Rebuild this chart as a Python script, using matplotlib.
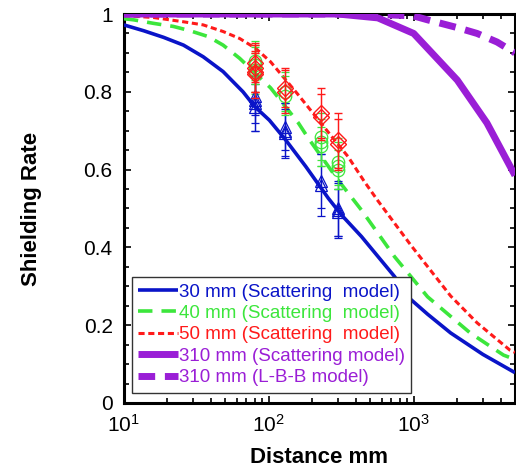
import numpy as np
import matplotlib
matplotlib.use("Agg")
import matplotlib.pyplot as plt
from matplotlib.ticker import MultipleLocator, LogLocator, FixedLocator, FixedFormatter

plt.rcParams['font.family'] = ['Liberation Sans', 'DejaVu Sans']
plt.rcParams['mathtext.fontset'] = 'custom'
plt.rcParams['mathtext.rm'] = 'Liberation Sans'

# ---- model curves ----
x30 = [10, 13.7, 18.8, 25.8, 35.3, 48.4, 66.4, 80, 101, 131, 180, 258, 320, 436, 738, 910, 1250, 1800, 3000, 5000]
y30 = [0.972, 0.957, 0.94, 0.92, 0.89, 0.852, 0.80, 0.762, 0.727, 0.676, 0.608, 0.526, 0.482, 0.428, 0.325, 0.273, 0.228, 0.18, 0.125, 0.078]

x40 = [10, 11.7, 16, 22, 28.6, 38.2, 48.4, 63, 103, 160, 188, 301, 436, 738, 1247, 2455, 4170, 5000]
y40 = [0.988, 0.985, 0.976, 0.968, 0.957, 0.942, 0.92, 0.886, 0.81, 0.72, 0.68, 0.573, 0.496, 0.376, 0.273, 0.18, 0.123, 0.112]

x50 = [10, 16, 25.8, 35.3, 48.4, 63, 81, 103, 160, 272, 353, 459, 566, 959, 1800, 2740, 4610, 5000]
y50 = [0.996, 0.991, 0.98, 0.972, 0.955, 0.937, 0.912, 0.877, 0.792, 0.685, 0.633, 0.568, 0.52, 0.405, 0.275, 0.206, 0.136, 0.13]

x310 = [10, 100, 300, 566, 1000, 2000, 3200, 5000]
y310 = [1.0, 1.0, 1.0, 0.99, 0.95, 0.83, 0.72, 0.585]

x310lbb = [10, 100, 500, 1000, 1247, 2000, 2740, 3760, 5000]
y310lbb = [1.0, 1.0, 1.0, 0.995, 0.985, 0.965, 0.95, 0.928, 0.90]

# ---- measurements (repeated shots) ----
mx30 = [80, 80, 80, 80, 130, 130, 130, 230, 230, 300, 300, 300]
my30 = [0.79, 0.78, 0.77, 0.76, 0.71, 0.70, 0.695, 0.57, 0.56, 0.50, 0.495, 0.49]
me30 = [0.05, 0.06, 0.07, 0.06, 0.06, 0.07, 0.06, 0.07, 0.08, 0.07, 0.07, 0.06]

mx40 = [80, 80, 80, 80, 130, 130, 230, 230, 230, 300, 300, 300]
my40 = [0.88, 0.87, 0.855, 0.85, 0.80, 0.79, 0.685, 0.67, 0.66, 0.62, 0.61, 0.60]
me40 = [0.05, 0.05, 0.06, 0.05, 0.05, 0.05, 0.06, 0.06, 0.05, 0.06, 0.06, 0.05]

mx50 = [80, 80, 80, 80, 130, 130, 230, 230, 300, 300]
my50 = [0.875, 0.86, 0.85, 0.845, 0.81, 0.80, 0.745, 0.735, 0.675, 0.665]
me50 = [0.05, 0.06, 0.05, 0.06, 0.05, 0.055, 0.065, 0.06, 0.07, 0.065]

labels = ["30 mm (Scattering  model)", "40 mm (Scattering  model)",
          "50 mm (Scattering  model)", "310 mm (Scattering model)",
          "310 mm (L-B-B model)"]

c_blue = '#0A14C8'
c_green = '#3CE63C'
c_red = '#FF1A1A'
c_purple = '#9A1ED6'

fig = plt.figure(figsize=(5.16, 4.70), dpi=100)
ax = fig.add_axes([0.240, 0.1426, 0.758, 0.8276])

l1, = ax.plot(x30, y30, color=c_blue, lw=2.6, solid_capstyle='butt', zorder=3)
l2, = ax.plot(x40, y40, color=c_green, lw=2.6, dashes=(4, 2.5), zorder=3)
l3, = ax.plot(x50, y50, color=c_red, lw=2.2, dashes=(2, 1.2), zorder=3)
l4, = ax.plot(x310, y310, color=c_purple, lw=5, solid_capstyle='butt', zorder=3)
l5, = ax.plot(x310lbb, y310lbb, color=c_purple, lw=5, dashes=(2.4, 1.4), zorder=3)

ax.errorbar(mx30, my30, yerr=me30, fmt='^', mfc='none', mec=c_blue, ecolor=c_blue,
            ms=8.5, mew=0.9, elinewidth=0.9, capsize=3, capthick=0.9, zorder=4)
ax.errorbar(mx40, my40, yerr=me40, fmt='o', mfc='none', mec=c_green, ecolor=c_green,
            ms=9, mew=0.9, elinewidth=0.9, capsize=3, capthick=0.9, zorder=4)
ax.errorbar(mx50, my50, yerr=me50, fmt='D', mfc='none', mec=c_red, ecolor=c_red,
            ms=8, mew=1.0, elinewidth=0.9, capsize=3, capthick=0.9, zorder=5)

ax.set_xscale('log')
ax.set_xlim(10, 5000)
ax.set_ylim(0, 1)

ax.yaxis.set_major_locator(FixedLocator([0, 0.2, 0.4, 0.6, 0.8, 1.0]))
ax.yaxis.set_major_formatter(FixedFormatter(["0", "0.2", "0.4", "0.6", "0.8", "1"]))
ax.yaxis.set_minor_locator(MultipleLocator(0.05))
ax.xaxis.set_major_locator(LogLocator(base=10, numticks=10))
ax.xaxis.set_minor_locator(LogLocator(base=10, subs=np.arange(2, 10), numticks=20))

ax.tick_params(which='both', direction='in', top=True, right=True, width=1.2)
ax.tick_params(which='major', length=5, labelsize=15, pad=8)
ax.tick_params(which='minor', length=3.5)
for s in ax.spines.values():
    s.set_linewidth(2.2)

ax.set_xlabel("Distance mm", fontsize=16, fontweight='bold', labelpad=8)
ax.set_ylabel("Shielding Rate", fontsize=16, fontweight='bold', labelpad=30)

leg = ax.legend([l1, l2, l3, l4, l5], labels, loc='lower left',
                bbox_to_anchor=(0.02, 0.026), fontsize=13.5, handlelength=2.1,
                handletextpad=0.05, labelspacing=0.23, borderpad=0.35,
                borderaxespad=0.0, fancybox=False, framealpha=1)
leg.get_frame().set_edgecolor('#333333')
leg.get_frame().set_linewidth(1.0)
for t, c in zip(leg.get_texts(), [c_blue, c_green, c_red, c_purple, c_purple]):
    t.set_color(c)

fig.savefig("out.png", dpi=100)
